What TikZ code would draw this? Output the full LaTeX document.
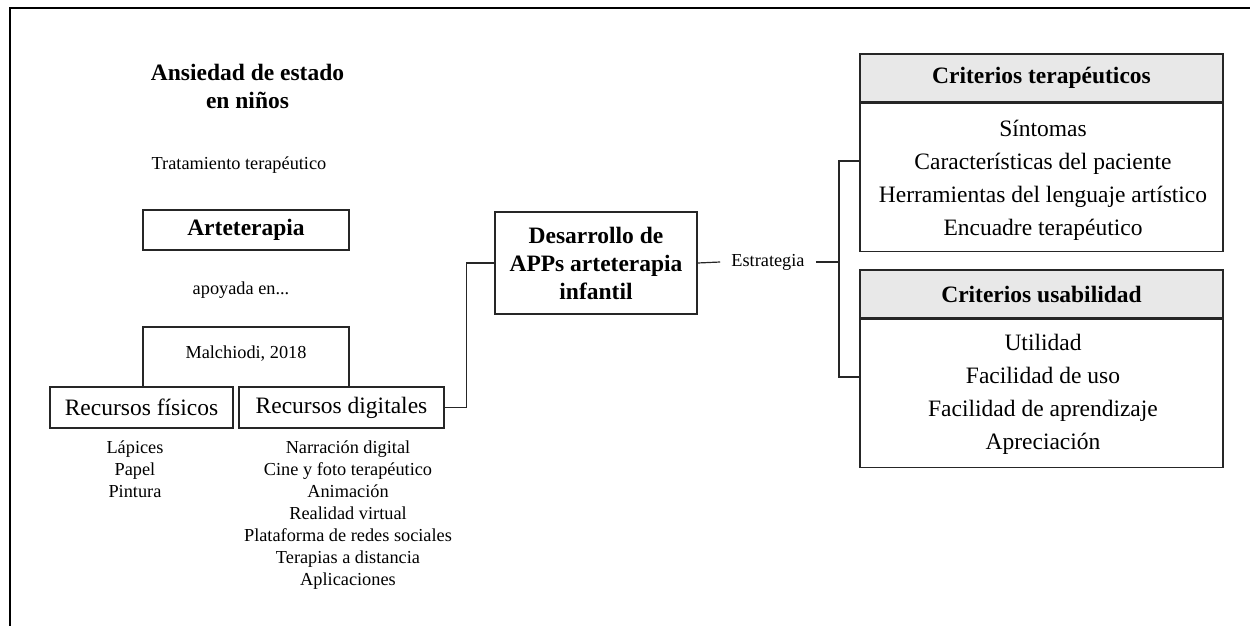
\documentclass[tikz,border=0pt]{standalone}
\usepackage{fontspec}
\setmainfont{Liberation Serif}
\begin{document}
\begin{tikzpicture}[x=1pt,y=-1pt,
  line/.style={draw=black!85, line width=1.2pt},
  box/.style={draw=black!85, line width=1.2pt, inner sep=0pt, align=center},
  hbold/.style={font=\fontsize{23.5}{28}\selectfont\bfseries, align=center, inner sep=0pt},
  lreg/.style={font=\fontsize{23.5}{28}\selectfont},
  items/.style={font=\fontsize{23.5}{33}\selectfont, align=center, inner sep=0pt},
  small/.style={font=\fontsize{18.3}{22}\selectfont, align=center, inner sep=0pt},
  head/.style={box, fill=black!9, font=\fontsize{23.5}{28}\selectfont\bfseries}
]
\useasboundingbox (0,0) rectangle (1250,626);
\draw[line width=2pt, black] (10,626) -- (10,8) -- (1250,8);

% left column
\node[hbold] (ans) at (247.5,86) {Ansiedad de estado\\en niños};
\node[small] (trat) at (239,165) {Tratamiento terapéutico};
\node[box, hbold, minimum width=206pt, minimum height=40pt] (art) at (246,230) {Arteterapia};
\node[small] (apo) at (241,290) {apoyada en...};
\node[small] (mal) at (246,354) {Malchiodi, 2018};
\node[box, lreg, minimum width=183pt, minimum height=41pt] (fis) at (141.5,407.5) {Recursos físicos};
\node[box, lreg, minimum width=205pt, minimum height=41pt] (dig) at (341.5,407.5) {Recursos digitales};
\node[small, anchor=north] (fisl) at (135,441) {Lápices\\Papel\\Pintura};
\node[small, anchor=north] (digl) at (348,441) {Narración digital\\Cine y foto terapéutico\\Animación\\Realidad virtual\\Plataforma de redes sociales\\Terapias a distancia\\Aplicaciones};

\coordinate (bl) at (143,327);
\coordinate (br) at (349,327);
\draw[line] (bl |- fis.north) -- (bl) -- (br) -- (br |- dig.north);

% middle
\node[box, hbold, minimum width=202pt, minimum height=102pt] (des) at (596,263) {Desarrollo de\\APPs arteterapia\\infantil};
\draw[line] (dig.east) -- ++(22,0) |- (des.west);
\node[small, inner xsep=11pt] (est) at (768,262) {Estrategia};
\draw[line] (des.east) -- (est.west);
\coordinate (bk) at (839,262);
\draw[line] (est.east) -- (bk);

% right boxes
\node[head, minimum width=363pt, minimum height=48pt] (h1) at (1041.5,78) {Criterios terapéuticos};
\node[box, minimum width=363pt, minimum height=148pt, anchor=north] (b1) at (h1.south) {};
\node[items] (t1) at (1043,180) {Síntomas\\Características del paciente\\Herramientas del lenguaje artístico\\Encuadre terapéutico};
\node[head, minimum width=363pt, minimum height=48pt] (h2) at (1041.5,294) {Criterios usabilidad};
\node[box, minimum width=363pt, minimum height=148pt, anchor=north] (b2) at (h2.south) {};
\node[items] (t2) at (1043,394) {Utilidad\\Facilidad de uso\\Facilidad de aprendizaje\\Apreciación};

\coordinate (bt) at (839,161);
\coordinate (bb) at (839,377);
\draw[line] (b1.west |- bt) -- (bt) -- (bb) -- (b2.west |- bb);
\end{tikzpicture}
\end{document}
